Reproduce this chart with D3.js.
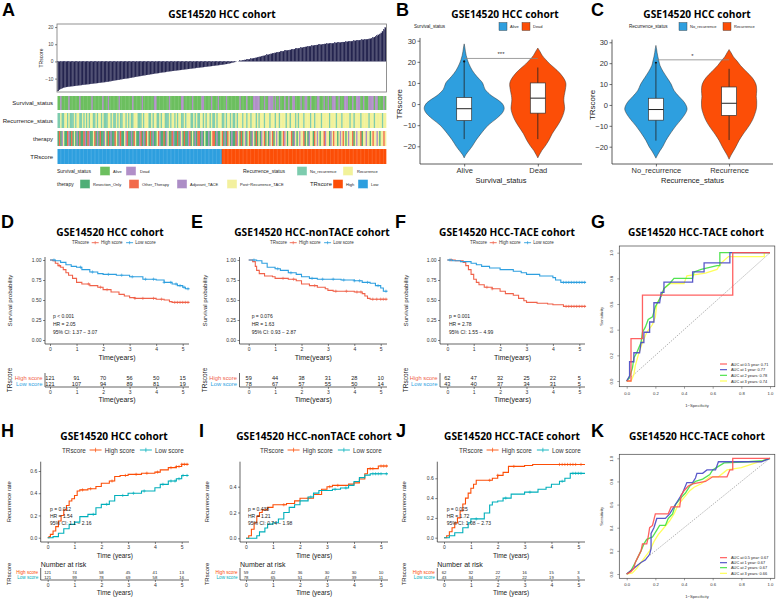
<!DOCTYPE html>
<html><head><meta charset="utf-8">
<script src="https://cdn.jsdelivr.net/npm/d3@7"></script>
<style>
body{margin:0;background:#fff;}
svg{display:block;font-family:"Liberation Sans",Arial,sans-serif;}
</style></head><body>
<svg id="fig" width="777" height="599"></svg>
<script>
// ================= DATA =================
// Panel A: sorted TRscore per patient (242 patients)
const trScores = [
-17.2,-16.5,-16.0,-15.6,-15.3,-15.1,-14.9,-14.8,-14.7,-14.6,-14.5,-14.4,-14.3,-14.2,-14.1,-14.0,-13.9,-13.8,-13.7,-13.6,-13.5,-13.4,
-13.3,-13.2,-13.1,-13.0,-12.9,-12.8,-12.7,-12.6,-12.5,-12.4,-12.3,-12.2,-12.1,-12.0,-11.9,-11.8,-11.6,-11.5,-11.3,-11.2,-11.0,-10.9,
-10.8,-10.7,-10.5,-10.4,-10.2,-10.1,-10.0,-9.9,-9.8,-9.6,-9.5,-9.3,-9.2,-9.0,-8.9,-8.7,-8.6,-8.5,-8.3,-8.2,-8.1,-7.9,
-7.8,-7.7,-7.5,-7.4,-7.3,-7.1,-7.0,-6.9,-6.8,-6.6,-6.5,-6.4,-6.3,-6.2,-6.0,-5.9,-5.8,-5.7,-5.6,-5.5,-5.4,-5.3,
-5.2,-5.1,-5.0,-4.9,-4.8,-4.7,-4.6,-4.5,-4.4,-4.3,-4.2,-4.1,-4.0,-3.9,-3.8,-3.7,-3.6,-3.5,-3.4,-3.3,-3.2,-3.1,
-3.0,-2.9,-2.8,-2.7,-2.6,-2.5,-2.4,-2.3,-2.2,-2.1,-2.0,-1.9,-1.8,-1.6,-1.5,-1.3,-1.2,-1.0,-0.8,-0.6,-0.4,-0.2,
0.0,0.1,0.3,0.5,0.6,0.8,0.9,1.0,1.2,1.3,1.5,1.7,1.8,2.0,2.2,2.4,2.6,2.8,3.0,3.2,3.4,3.6,
3.8,4.0,4.2,4.4,4.6,4.8,5.0,5.1,5.3,5.5,5.7,5.9,6.0,6.2,6.4,6.5,6.6,6.7,6.9,7.0,7.2,7.4,
7.5,7.7,7.8,8.0,8.1,8.3,8.4,8.6,8.7,8.9,9.0,9.1,9.3,9.4,9.5,9.6,9.7,9.8,9.9,10.0,10.1,10.2,
10.3,10.4,10.5,10.5,10.6,10.7,10.8,10.9,10.9,11.0,11.1,11.2,11.3,11.3,11.4,11.5,11.6,11.7,11.8,11.9,12.0,12.1,
12.2,12.3,12.4,12.5,12.6,12.7,12.8,12.9,13.0,13.1,13.3,13.5,13.8,14.2,14.6,15.0,15.5,16.0,16.6,17.4,18.5,19.8];
// A = Alive, D = Dead
const survivalStatus =
"AADAAAAADAAAAAAADAAAAA"+"AAADAAAAAAADAAADAAAAAA"+"ADAAAAAAAAADAAAAAADAAA"+"AAAAADDAAAAAAAAADAAAAA"+
"AAADDAAAAAADAAAAAADDAA"+"AAADAAAADAAAAADAAAAAAA"+"AADAAAADAAAADDDDDAAADA"+"ADDDDADAADAAADAADAADDA"+
"AAADAADDAADAAAADDAAADA"+"ADAADDDAADAAADDDAAADAA"+"DDDAADAAADDDDADDAAAADA";
// N = No_recurrence, R = Recurrence
const recurrenceStatus =
"NNRNNRRNRNNNRNRRNNRNRN"+"RNRRNNRNRRNRNNNRRNRNNR"+"NRNNRRNRNRNNRRRNNNRNRR"+"RNNRNRRNNRNRRNNNRNRRNR"+
"NRRNNRNRRRNNRNRNNRRNRN"+"RRNRNNRNRRRNNRNRRNRNNR"+"NRRRNRRNRRNRRRNRNRRRNR"+"RRNRRRNRRNRRRRNRRNRRRN"+
"RNRRRNRRRRNRRNRRRRNRRR"+"RRNRRRRNRRRNRRRRRNRRNR"+"RRRNRRRRRNRRRNRRRRRNRR";
// R = Resection_Only, O = Other_Therapy, A = Adjuvant_TACE, P = Post-Recurrence_TACE
const therapyCodes =
"RORAPRROARORPRARORROAR"+"OARRPORARORRAPRORARROP"+"RAORRPAORRAROPRRAORARO"+"PRORARRPOARRORAPRROARR"+
"ORAPRORRAORPRAROORARPR"+"RARPOORARRPORAROPRARRO"+"APRORPARPORAPRORPRAPOR"+"PRAPORPAPRRPOAPRPPORAP"+
"RPAPPORPRAPPROPAPRPPOA"+"PPRAPOPPRPAPOPRPAPPORP"+"APPORPPAPPRPOPPAPRPPOP";
const riskGroupNames = ["Low","High"];
const riskGroupCounts = [121,121];

// Panels B / C : violin densities and box statistics
const survCats = ["Alive","Dead"];
const recCats = ["No_recurrence","Recurrence"];
const aliveLevels = [-25.5,-24,-22,-20,-17,-14,-10,-7,-4,-2,0,2,4,7,10,13,16,19,21,23,25,27,28.5];
const aliveDensity = [0,0.04,0.12,0.2,0.3,0.42,0.6,0.8,0.96,1.0,0.96,0.84,0.68,0.52,0.46,0.32,0.2,0.12,0.08,0.05,0.03,0.015,0];
const deadLevels = [-25.5,-24,-22,-20,-17,-14,-10,-7,-4,-2,0,2,4,7,10,13,16,19,21,23,25,26.5];
const deadDensity = [0,0.04,0.1,0.18,0.28,0.36,0.5,0.59,0.65,0.67,0.66,0.65,0.66,0.69,0.7,0.62,0.48,0.3,0.2,0.11,0.05,0];
const noRecLevels = [-25.5,-24,-22,-20,-17,-14,-10,-7,-4,-2,0,2,4,7,10,13,16,19,21,23,25,27,28.5];
const noRecDensity = [0,0.04,0.1,0.17,0.25,0.35,0.5,0.63,0.74,0.78,0.75,0.68,0.58,0.45,0.38,0.28,0.18,0.1,0.075,0.05,0.03,0.015,0];
const recLevels = [-26,-24,-22,-20,-17,-14,-10,-7,-4,-2,0,2,4,7,10,13,16,19,21,23,25,26.5];
const recDensity = [0,0.05,0.11,0.17,0.25,0.35,0.5,0.59,0.65,0.68,0.69,0.69,0.68,0.69,0.67,0.58,0.43,0.28,0.2,0.11,0.05,0];
// [lower whisker, Q1, median, Q3, upper whisker]
const aliveBox = [-16.6,-7.8,-2.2,3.1,20.2];
const deadBox = [-16.6,-4.3,2.8,10.0,17.3];
const noRecBox = [-17.1,-7.3,-2.2,3.2,19.7];
const recBox = [-16.8,-5.0,0.8,8.6,17.3];
const aliveOutliers = [20.2];
const noRecOutliers = [20.2];

// Panels D-F : overall survival (time, probability)
const survD_high = [[0,1],[0.1,0.99],[0.2,0.96],[0.3,0.93],[0.4,0.91],[0.5,0.88],[0.6,0.84],[0.7,0.81],[0.85,0.77],[1.0,0.72],[1.2,0.70],[1.5,0.68],[1.8,0.66],[2.0,0.63],[2.3,0.60],[2.6,0.57],[2.8,0.55],[3.0,0.53],[3.2,0.52],[3.6,0.52],[4.0,0.51],[4.3,0.50],[4.5,0.48],[4.6,0.47],[5.25,0.47]];
const survD_low = [[0,1],[0.2,0.99],[0.4,0.97],[0.6,0.94],[0.8,0.92],[1.0,0.91],[1.2,0.88],[1.5,0.85],[1.8,0.83],[2.0,0.82],[2.5,0.81],[3.0,0.79],[3.5,0.76],[4.0,0.75],[4.3,0.72],[4.6,0.70],[4.8,0.68],[5.0,0.66],[5.1,0.64],[5.25,0.64]];
const censD_high = [0.35,1.45,1.9,2.15,3.2,3.5,3.9,4.2,4.7,4.8,4.9,5.0,5.1,5.2];
const censD_low = [0.15,1.15,1.6,2.2,2.7,3.1,3.6,3.9,4.3,4.55,4.75,4.9,5.05,5.2];
const survE_high = [[0,1],[0.15,0.98],[0.25,0.92],[0.3,0.87],[0.4,0.83],[0.6,0.80],[0.9,0.79],[1.0,0.77],[1.5,0.76],[1.8,0.74],[2.0,0.70],[2.3,0.68],[2.6,0.66],[2.9,0.64],[3.0,0.62],[3.2,0.61],[4.0,0.60],[4.3,0.58],[4.4,0.55],[4.5,0.52],[4.6,0.51],[5.25,0.51]];
const survE_low = [[0,1],[0.3,0.99],[0.5,0.96],[0.7,0.91],[1.0,0.89],[1.2,0.87],[1.5,0.84],[1.8,0.82],[2.0,0.79],[2.3,0.77],[2.6,0.76],[3.5,0.75],[4.0,0.74],[4.3,0.72],[4.6,0.71],[4.8,0.68],[5.0,0.65],[5.1,0.61],[5.25,0.61]];
const censE_high = [1.3,1.7,2.5,3.3,3.7,4.1,4.25,4.7,4.85,5.0,5.1,5.2];
const censE_low = [0.2,1.1,1.6,2.4,2.8,3.2,3.6,4.0,4.2,4.5,4.9,5.2];
const survF_high = [[0,1],[0.3,0.99],[0.6,0.97],[0.7,0.93],[0.8,0.88],[0.9,0.82],[1.0,0.76],[1.1,0.72],[1.2,0.69],[1.4,0.66],[1.7,0.64],[2.0,0.61],[2.2,0.58],[2.5,0.56],[2.7,0.52],[2.9,0.49],[3.0,0.47],[3.4,0.46],[3.8,0.45],[4.0,0.44],[4.4,0.42],[5.25,0.42]];
const survF_low = [[0,1],[0.2,0.99],[0.5,0.98],[0.9,0.96],[1.1,0.94],[1.3,0.92],[1.6,0.90],[2.0,0.88],[2.5,0.86],[2.8,0.84],[3.0,0.82],[3.5,0.80],[4.0,0.78],[4.1,0.75],[4.3,0.72],[5.25,0.72]];
const censF_high = [0.15,1.5,1.7,4.5,4.6,4.7,4.8,4.9,5.0,5.1,5.2];
const censF_low = [0.1,4.4,4.5,4.6,4.7,4.8,4.9,5.0,5.1,5.2];

// Panels H-J : recurrence rate (time, cumulative rate)
const recH_high = [[0,0],[0.05,0.01],[0.1,0.03],[0.2,0.06],[0.3,0.1],[0.4,0.15],[0.5,0.2],[0.6,0.25],[0.7,0.29],[0.8,0.33],[0.9,0.35],[1.0,0.38],[1.1,0.42],[1.2,0.43],[1.5,0.44],[1.8,0.46],[2.0,0.49],[2.3,0.51],[2.5,0.55],[2.7,0.56],[3.0,0.57],[3.5,0.58],[4.0,0.59],[4.2,0.61],[4.5,0.63],[4.8,0.64],[5.0,0.66],[5.25,0.66]];
const recH_low = [[0,0],[0.2,0.01],[0.4,0.04],[0.6,0.08],[0.8,0.12],[1.0,0.14],[1.2,0.19],[1.5,0.21],[1.8,0.27],[2.0,0.30],[2.3,0.33],[2.5,0.38],[3.0,0.40],[3.5,0.42],[4.0,0.45],[4.2,0.48],[4.5,0.51],[4.8,0.53],[5.0,0.56],[5.25,0.56]];
const censH_high = [1.3,1.6,2.4,2.9,3.3,3.7,4.1,4.6,4.8,4.9,5.0,5.1,5.2];
const censH_low = [1.7,2.2,2.8,3.2,3.6,4.3,4.6,4.75,4.9,5.05,5.2];
const recI_high = [[0,0],[0.1,0.02],[0.2,0.07],[0.3,0.12],[0.4,0.17],[0.5,0.20],[0.6,0.22],[0.8,0.24],[1.0,0.26],[1.5,0.27],[1.8,0.29],[2.0,0.31],[2.5,0.34],[2.8,0.38],[3.0,0.40],[3.2,0.41],[3.8,0.42],[4.0,0.43],[4.2,0.46],[4.4,0.50],[4.5,0.54],[4.9,0.56],[5.25,0.56]];
const recI_low = [[0,0],[0.4,0.02],[0.5,0.05],[0.7,0.08],[0.8,0.11],[1.0,0.12],[1.2,0.15],[1.4,0.20],[1.6,0.24],[1.8,0.26],[2.0,0.29],[2.3,0.32],[2.5,0.35],[2.7,0.37],[3.2,0.38],[3.5,0.39],[3.8,0.41],[4.0,0.44],[4.2,0.47],[4.4,0.49],[4.6,0.50],[5.25,0.50]];
const censI_high = [1.4,2.3,3.1,3.4,4.6,4.7,5.0,5.1,5.2];
const censI_low = [2.4,3.3,3.7,4.7,4.8,4.9,5.0,5.2];
const recJ_high = [[0,0],[0.1,0.02],[0.2,0.06],[0.3,0.10],[0.4,0.15],[0.5,0.20],[0.6,0.27],[0.7,0.34],[0.8,0.40],[0.9,0.45],[1.0,0.50],[1.1,0.54],[1.2,0.58],[1.8,0.60],[2.0,0.63],[2.2,0.66],[2.4,0.72],[3.0,0.73],[3.3,0.74],[5.25,0.74]];
const recJ_low = [[0,0],[0.2,0.02],[0.4,0.05],[0.7,0.10],[0.9,0.15],[1.0,0.19],[1.5,0.25],[1.7,0.33],[1.8,0.36],[2.0,0.37],[2.2,0.40],[2.5,0.44],[3.0,0.46],[3.5,0.49],[3.8,0.51],[4.0,0.54],[4.3,0.57],[4.5,0.60],[4.7,0.65],[5.25,0.65]];
const censJ_high = [1.7,2.0,2.6,4.3,4.4,4.5,4.6,4.7,4.8,4.9,5.1];
const censJ_low = [1.2,2.3,3.2,4.4,4.8,4.9,5.0,5.1];

// Risk tables: numbers at risk at years 0..5
const riskYears = [0,1,2,3,4,5];
const riskD_high = [121,91,70,56,50,15], riskD_low = [121,107,94,89,81,19];
const riskE_high = [59,44,38,31,28,10], riskE_low = [78,67,57,55,50,14];
const riskF_high = [62,47,32,25,22,5], riskF_low = [43,40,37,34,31,5];
const riskH_high = [121,74,58,45,41,13], riskH_low = [121,99,78,69,58,16];
const riskI_high = [59,42,36,30,30,10], riskI_low = [78,65,51,47,39,11];
const riskJ_high = [62,32,22,16,15,3], riskJ_low = [43,34,27,22,19,5];

// ROC curves (1-specificity, sensitivity)
const rocG_05 = [[0,0],[0.03,0],[0.03,0.33],[0.11,0.33],[0.11,0.67],[0.74,0.67],[0.74,1],[1,1]];
const rocG_1 = [[0,0],[0.02,0.04],[0.02,0.15],[0.05,0.15],[0.05,0.22],[0.09,0.22],[0.1,0.3],[0.12,0.3],[0.12,0.38],[0.16,0.38],[0.16,0.46],[0.19,0.46],[0.19,0.61],[0.23,0.61],[0.24,0.69],[0.26,0.69],[0.26,0.77],[0.46,0.77],[0.46,0.85],[0.54,0.85],[0.54,0.92],[0.72,0.92],[0.72,1],[1,1]];
const rocG_2 = [[0,0],[0.02,0.03],[0.04,0.1],[0.05,0.18],[0.07,0.22],[0.1,0.3],[0.11,0.38],[0.13,0.42],[0.15,0.48],[0.18,0.5],[0.2,0.58],[0.22,0.62],[0.24,0.66],[0.26,0.72],[0.3,0.76],[0.33,0.8],[0.46,0.8],[0.47,0.85],[0.52,0.87],[0.63,0.9],[0.65,0.9],[0.65,1],[1,1]];
const rocG_3 = [[0,0],[0.03,0],[0.05,0.05],[0.06,0.12],[0.08,0.2],[0.11,0.3],[0.14,0.38],[0.18,0.44],[0.2,0.5],[0.21,0.6],[0.24,0.66],[0.26,0.72],[0.3,0.76],[0.4,0.76],[0.42,0.82],[0.55,0.84],[0.63,0.87],[0.66,0.92],[0.71,0.97],[0.96,0.97],[0.96,1],[1,1]];
const rocK_05 = [[0,0],[0.03,0.02],[0.05,0.05],[0.06,0.1],[0.08,0.15],[0.1,0.2],[0.11,0.26],[0.14,0.26],[0.15,0.32],[0.16,0.4],[0.18,0.42],[0.2,0.52],[0.29,0.52],[0.31,0.58],[0.37,0.58],[0.38,0.68],[0.4,0.72],[0.43,0.76],[0.46,0.78],[0.55,0.8],[0.6,0.84],[0.7,0.84],[0.72,0.9],[0.74,0.9],[0.74,1],[1,1]];
const rocK_1 = [[0,0],[0.02,0.02],[0.05,0.05],[0.08,0.08],[0.1,0.1],[0.13,0.12],[0.16,0.17],[0.17,0.22],[0.17,0.35],[0.19,0.4],[0.21,0.48],[0.27,0.48],[0.3,0.52],[0.33,0.58],[0.35,0.62],[0.39,0.7],[0.42,0.79],[0.46,0.79],[0.48,0.83],[0.49,0.87],[0.53,0.87],[0.56,0.9],[0.62,0.9],[0.64,0.97],[0.94,0.97],[1,1]];
const rocK_2 = [[0,0],[0.03,0.03],[0.06,0.1],[0.08,0.15],[0.1,0.2],[0.12,0.26],[0.14,0.3],[0.18,0.32],[0.21,0.38],[0.23,0.42],[0.27,0.42],[0.29,0.48],[0.32,0.52],[0.34,0.6],[0.38,0.66],[0.41,0.7],[0.44,0.76],[0.48,0.8],[0.53,0.82],[0.58,0.86],[0.6,0.9],[0.64,0.93],[0.68,0.96],[0.85,0.97],[0.95,0.98],[1,1]];
const rocK_3 = [[0,0],[0.04,0.01],[0.07,0.05],[0.1,0.1],[0.13,0.15],[0.16,0.2],[0.19,0.28],[0.22,0.34],[0.26,0.4],[0.3,0.46],[0.33,0.52],[0.36,0.6],[0.4,0.66],[0.44,0.72],[0.47,0.75],[0.52,0.78],[0.58,0.84],[0.64,0.84],[0.7,0.9],[0.8,0.92],[0.9,0.96],[1,1]];
const aucLabelsG = ["AUC at 0.5 year: 0.71","AUC at 1 year: 0.77","AUC at 2 years: 0.78","AUC at 3 years: 0.74"];
const aucLabelsK = ["AUC at 0.5 year: 0.67","AUC at 1 year: 0.67","AUC at 2 years: 0.67","AUC at 3 years: 0.66"];

// ================= DRAWING =================
const svg = d3.select("#fig");
const TF = "'Open Sans','Noto Sans',sans-serif";
function T(p, x, y, s, o = {}) {
  const t = p.append("text").attr("x", x).attr("y", y).text(s)
    .attr("font-size", o.size || 6).attr("fill", o.fill || "#000")
    .attr("text-anchor", o.anchor || "start").attr("dominant-baseline", o.base || "central");
  if (o.weight) t.attr("font-weight", o.weight);
  if (o.family) t.attr("font-family", o.family);
  if (o.rotate) t.attr("transform", `rotate(${o.rotate},${x},${y})`);
  return t;
}
function line(p, x1, y1, x2, y2, c = "#000", w = 0.7, dash) {
  const l = p.append("line").attr("x1", x1).attr("y1", y1).attr("x2", x2).attr("y2", y2)
    .attr("stroke", c).attr("stroke-width", w);
  if (dash) l.attr("stroke-dasharray", dash);
  return l;
}
function styleAxis(g, size, fill, tickColor = "#333", tw = 0.6) {
  g.select(".domain").remove();
  g.selectAll("text").attr("font-size", size).attr("fill", fill).attr("font-family", "'Liberation Sans',Arial,sans-serif");
  g.selectAll("line").attr("stroke", tickColor).attr("stroke-width", tw);
}

// Panel letters & titles
const letters = [["A",2,16],["B",396,16],["C",591,16],["D",1,228],["E",191,228],["F",395,228],["G",591,228],["H",1,437],["I",199,437],["J",396,437],["K",591,437]];
letters.forEach(([l, x, y]) => T(svg, x, y, l, {size: 18, weight: "bold", base: "auto"}));
const titles = [["GSE14520 HCC cohort",222,14],["GSE14520 HCC cohort",505,14],["GSE14520 HCC cohort",697,14],
  ["GSE14520 HCC cohort",110,232],["GSE14520 HCC-nonTACE cohort",312,232],["GSE14520 HCC-TACE cohort",507,232],["GSE14520 HCC-TACE cohort",696,232],
  ["GSE14520 HCC cohort",114,436],["GSE14520 HCC-nonTACE cohort",314,436],["GSE14520 HCC-TACE cohort",512,436],["GSE14520 HCC-TACE cohort",697,436]];
titles.forEach(([s, x, y]) => T(svg, x, y, s, {size: 10.2, weight: "bold", anchor: "middle", family: TF}));

// ---------- Panel A ----------
(function () {
  const g = svg.append("g");
  const n = trScores.length, idx = d3.range(n);
  const xb = d3.scaleBand().domain(idx).range([57.5, 386]);
  const xh = d3.scaleBand().domain(idx).range([57.5, 386]);
  const y = d3.scaleLinear().domain([-17.8, 21.8]).range([92, 24]);
  g.selectAll("rect.bar").data(trScores).join("rect")
    .attr("x", (d, i) => xb(i)).attr("width", xb.bandwidth())
    .attr("y", d => y(Math.max(0, d))).attr("height", d => Math.abs(y(d) - y(0)))
    .attr("fill", "#25254F").attr("stroke", "#4A4A72").attr("stroke-width", 0.15);
  g.append("rect").attr("x", 57).attr("y", 24).attr("width", 329.5).attr("height", 68)
    .attr("fill", "none").attr("stroke", "#777").attr("stroke-width", 0.8);
  const ax = g.append("g").attr("transform", "translate(57,0)")
    .call(d3.axisLeft(y).tickValues([-10, 0, 10, 20]).tickSize(2).tickPadding(1.5));
  styleAxis(ax, 4.8, "#444");
  T(g, 41, 58, "TRscore", {size: 5, anchor: "middle", rotate: -90, fill: "#222"});

  const survColor = {A: "#6CBF5F", D: "#B18FC8"};
  const recColor = {N: "#7DCCAE", R: "#F2F29A"};
  const thColor = {R: "#4EAE76", O: "#F26A4B", A: "#AC8DC6", P: "#F3F09E"};
  const riskColor = {Low: "#2E9FDF", High: "#FC4E07"};
  const riskOf = [];
  riskGroupNames.forEach((nm, k) => { for (let j = 0; j < riskGroupCounts[k]; j++) riskOf.push(nm); });
  const rows = [
    {label: "Survival_status", y0: 96, y1: 110, col: i => survColor[survivalStatus[i]]},
    {label: "Recurrence_status", y0: 113, y1: 128, col: i => recColor[recurrenceStatus[i]]},
    {label: "therapy", y0: 131, y1: 146, col: i => thColor[therapyCodes[i]]},
    {label: "TRscore", y0: 149, y1: 164, col: i => riskColor[riskOf[i]]}
  ];
  rows.forEach(r => {
    g.append("g").selectAll("rect").data(idx).join("rect")
      .attr("x", i => xh(i)).attr("width", xh.bandwidth() + 0.35)
      .attr("y", r.y0).attr("height", r.y1 - r.y0).attr("fill", i => r.col(i) || "#fff");
    T(g, 53, (r.y0 + r.y1) / 2, r.label, {size: 6, anchor: "end", fill: "#222"});
  });
  // legends
  function key(x, y, c) { g.append("rect").attr("x", x).attr("y", y - 4.5).attr("width", 10).attr("height", 9).attr("fill", c).attr("stroke", "#fff").attr("stroke-width", 0.4); }
  const L1 = 171, L2 = 184;
  T(g, 57, L1, "Survival_status", {size: 5, fill: "#222"});
  key(100, L1, survColor.A); T(g, 113, L1, "Alive", {size: 4, fill: "#222"});
  key(126, L1, survColor.D); T(g, 140, L1, "Dead", {size: 4, fill: "#222"});
  T(g, 243, L1, "Recurrence_status", {size: 5, fill: "#222"});
  key(297, L1, recColor.N); T(g, 310, L1, "No_recurrence", {size: 4, fill: "#222"});
  key(343, L1, recColor.R); T(g, 357, L1, "Recurrence", {size: 4, fill: "#222"});
  T(g, 57, L2, "therapy", {size: 5, fill: "#222"});
  key(80, L2, thColor.R); T(g, 93, L2, "Resection_Only", {size: 4, fill: "#222"});
  key(129, L2, thColor.O); T(g, 142, L2, "Other_Therapy", {size: 4, fill: "#222"});
  key(177, L2, thColor.A); T(g, 190, L2, "Adjuvant_TACE", {size: 4, fill: "#222"});
  key(227, L2, thColor.P); T(g, 240, L2, "Post\u2212Recurrence_TACE", {size: 4, fill: "#222"});
  T(g, 310, L2, "TRscore", {size: 5.8, fill: "#222"});
  key(333, L2, riskColor.High); T(g, 346, L2, "High", {size: 4, fill: "#222"});
  key(358, L2, riskColor.Low); T(g, 371, L2, "Low", {size: 4, fill: "#222"});
})();

// ---------- Panels B, C (violins) ----------
function violinPanel(o) {
  const g = svg.append("g");
  const y = d3.scaleLinear().domain([-20, 30]).range(o.yr);
  const x = d3.scalePoint().domain(o.cats).range([o.ax0, o.ax1]).padding(0.6);
  const cols = ["#2E9FDF", "#FC4E07"];
  o.groups.forEach((gr, i) => {
    const cx = x(o.cats[i]);
    const pts = d3.zip(gr.levels, gr.dens);
    const area = d3.area().curve(d3.curveCatmullRom.alpha(0.5))
      .y(d => y(d[0])).x0(d => cx - d[1] * 40).x1(d => cx + d[1] * 40);
    g.append("path").attr("d", area(pts)).attr("fill", cols[i]).attr("stroke", "#333").attr("stroke-width", 0.5);
    const b = gr.box;
    line(g, cx, y(b[0]), cx, y(b[4]), "#222", 0.8);
    g.append("rect").attr("x", cx - 7.5).attr("y", y(b[3])).attr("width", 15).attr("height", y(b[1]) - y(b[3]))
      .attr("fill", "#fff").attr("stroke", "#333").attr("stroke-width", 0.7);
    line(g, cx - 7.5, y(b[2]), cx + 7.5, y(b[2]), "#222", 1);
    (gr.out || []).forEach(v => g.append("circle").attr("cx", cx).attr("cy", y(v)).attr("r", 1.1).attr("fill", "#111"));
  });
  // significance
  line(g, x(o.cats[0]), y(21.6), x(o.cats[1]), y(21.6), "#888", 0.8);
  T(g, (x(o.cats[0]) + x(o.cats[1])) / 2, y(23.6), o.sig, {size: 6, anchor: "middle", fill: "#333"});
  // axes
  const ay = g.append("g").attr("transform", `translate(${o.ax0},0)`)
    .call(d3.axisLeft(y).tickValues([-20, -10, 0, 10, 20, 30]).tickSize(2.5).tickPadding(1.5));
  styleAxis(ay, 7.5, "#333", "#333", 0.7);
  const ax = g.append("g").attr("transform", `translate(0,${o.xAxisY})`)
    .call(d3.axisBottom(x).tickSize(2.5).tickPadding(1.2));
  styleAxis(ax, 7.5, "#333", "#333", 0.7);
  line(g, o.ax0, y(31.3), o.ax0, o.xAxisY, "#333", 0.8);
  line(g, o.ax0, o.xAxisY, o.ax1, o.xAxisY, "#333", 0.8);
  T(g, o.ylabX, y(0), "TRscore", {size: 8, anchor: "middle", rotate: -90, fill: "#222"});
  T(g, (o.ax0 + o.ax1) / 2, 180, o.xlab, {size: 7.5, anchor: "middle", fill: "#222"});
  // legend
  const ly = 26.5;
  T(g, o.leg[0], ly, o.xlab, {size: 4.6, fill: "#222"});
  [0, 1].forEach(i => {
    g.append("rect").attr("x", o.leg[1 + i * 2]).attr("y", ly - 4).attr("width", 8).attr("height", 8)
      .attr("fill", cols[i]).attr("stroke", "#333").attr("stroke-width", 0.4);
    T(g, o.leg[2 + i * 2], ly, o.cats[i], {size: 4, fill: "#222"});
  });
}
violinPanel({cats: survCats, yr: [146.3, 40.7], ax0: 420, ax1: 582, xAxisY: 164, ylabX: 400, xlab: "Survival_status", sig: "***",
  leg: [414, 499, 510, 522, 533],
  groups: [{levels: aliveLevels, dens: aliveDensity, box: aliveBox, out: aliveOutliers},
           {levels: deadLevels, dens: deadDensity, box: deadBox}]});
violinPanel({cats: recCats, yr: [146.7, 42.3], ax0: 612, ax1: 773, xAxisY: 164, ylabX: 593, xlab: "Recurrence_status", sig: "*",
  leg: [629, 679, 690, 723, 734],
  groups: [{levels: noRecLevels, dens: noRecDensity, box: noRecBox, out: noRecOutliers},
           {levels: recLevels, dens: recDensity, box: recBox}]});

// ---------- KM style panels ----------
function stepValue(data, t) { let v = data[0][1]; data.forEach(d => { if (d[0] <= t) v = d[1]; }); return v; }
function kmLegend(x, y, size, lineLen, colors, labels) {
  let cx = x;
  const t0 = T(svg, cx, y, "TRscore", {size, fill: "#333"});
  cx += t0.node().getComputedTextLength() + size * 0.6;
  labels.forEach((lab, i) => {
    line(svg, cx, y, cx + lineLen, y, colors[i], 0.9);
    line(svg, cx + lineLen / 2, y - size * 0.35, cx + lineLen / 2, y + size * 0.35, colors[i], 0.7);
    cx += lineLen + size * 0.5;
    const t = T(svg, cx, y, lab, {size, fill: "#333"});
    cx += t.node().getComputedTextLength() + size * 0.8;
  });
}
function kmPanel(o) {
  const g = svg.append("g");
  const x = d3.scaleLinear().domain([0, 5]).range([o.t0, o.t5]);
  const y = d3.scaleLinear().domain([0, o.yRef]).range([o.y0, o.yRefPx]);
  const lineGen = d3.line().x(d => x(d[0])).y(d => y(d[1])).curve(d3.curveStepAfter);
  o.curves.forEach(c => {
    g.append("path").attr("d", lineGen(c.data)).attr("fill", "none").attr("stroke", c.color).attr("stroke-width", 1.1);
    c.cens.forEach(t => {
      const cx = x(t), cy = y(stepValue(c.data, t));
      line(g, cx, cy - 1.6, cx, cy + 1.6, c.color, 0.6);
      line(g, cx - 1.6, cy, cx + 1.6, cy, c.color, 0.6);
    });
  });
  const ay = g.append("g").attr("transform", `translate(${o.ax},0)`)
    .call(d3.axisLeft(y).tickValues(o.yTicks).tickFormat(d3.format(o.yFmt)).tickSize(2).tickPadding(1.5));
  styleAxis(ay, o.tickSize, "#333");
  const ax = g.append("g").attr("transform", `translate(0,${o.xAxisY})`)
    .call(d3.axisBottom(x).tickValues(riskYears).tickFormat(d3.format("d")).tickSize(2).tickPadding(1.2));
  styleAxis(ax, o.tickSize, "#333");
  line(g, o.ax, o.yTop, o.ax, o.xAxisY, "#222", 0.7);
  line(g, o.ax, o.xAxisY, o.axEnd, o.xAxisY, "#222", 0.7);
  T(g, (o.ax + o.axEnd) / 2, o.xAxisY + 13, o.xlab, {size: o.labSize, anchor: "middle", fill: "#222"});
  T(g, o.ylabX, (o.yTop + o.xAxisY) / 2, o.ylab, {size: o.labSize - 0.8, anchor: "middle", rotate: -90, fill: "#222"});
  o.stats.forEach((s, i) => T(g, o.statX, o.statY + i * o.statDy, s, {size: 5, fill: "#222"}));
  // risk table
  const r = o.risk;
  if (r.title) T(g, o.ax, r.titleY, "Number at risk", {size: 7, fill: "#222"});
  [r.high, r.low].forEach((vals, k) => {
    const yy = k === 0 ? r.yHigh : r.yLow;
    T(g, o.ax - 2.5, yy, k === 0 ? "High score" : "Low score", {size: r.labSize, anchor: "end", fill: o.curves[k].color});
    vals.forEach((v, j) => T(g, x(riskYears[j]), yy, v, {size: r.numSize, anchor: "middle", fill: "#222"}));
  });
  const rx = g.append("g").attr("transform", `translate(0,${r.axisY})`)
    .call(d3.axisBottom(x).tickValues(riskYears).tickFormat(d3.format("d")).tickSize(2).tickPadding(1.2));
  styleAxis(rx, o.tickSize, "#333");
  line(g, o.ax, r.top, o.ax, r.axisY, "#222", 0.7);
  line(g, o.ax, r.axisY, o.axEnd, r.axisY, "#222", 0.7);
  T(g, (o.ax + o.axEnd) / 2, r.axisY + 12.5, o.xlab, {size: o.labSize, anchor: "middle", fill: "#222"});
  T(g, o.ylabX, (r.top + r.axisY) / 2, "TRscore", {size: o.labSize - 0.5, anchor: "middle", rotate: -90, fill: "#222"});
}
const kmRed = "#F0624A", kmBlue = "#2E9FDF", recRed = "#FC4E07", recTeal = "#00AFBB";
const survBase = {yRef: 1, y0: 340, yRefPx: 260, yTicks: [0, 0.25, 0.5, 0.75, 1], yFmt: ".2f", xAxisY: 344, yTop: 257,
  tickSize: 5, labSize: 7, xlab: "Time(years)", ylab: "Survival probability", statY: 316, statDy: 8};
const survRiskBase = {yHigh: 378.3, yLow: 383.8, axisY: 387, top: 373, labSize: 5.8, numSize: 5.6};
kmPanel(Object.assign({}, survBase, {ax: 45, t0: 50, t5: 182.7, axEnd: 189, ylabX: 9, statX: 53,
  stats: ["p < 0.001", "HR = 2.05", "95% CI: 1.37 \u2212 3.07"],
  curves: [{data: survD_high, cens: censD_high, color: kmRed}, {data: survD_low, cens: censD_low, color: kmBlue}],
  risk: Object.assign({high: riskD_high, low: riskD_low}, survRiskBase)}));
kmPanel(Object.assign({}, survBase, {ax: 239.5, t0: 248.7, t5: 380.7, axEnd: 387, ylabX: 204, statX: 251.7,
  stats: ["p = 0.076", "HR = 1.63", "95% CI: 0.93 \u2212 2.87"],
  curves: [{data: survE_high, cens: censE_high, color: kmRed}, {data: survE_low, cens: censE_low, color: kmBlue}],
  risk: Object.assign({high: riskE_high, low: riskE_low}, survRiskBase)}));
kmPanel(Object.assign({}, survBase, {ax: 440, t0: 447.3, t5: 579.3, axEnd: 585, ylabX: 405, statX: 449,
  stats: ["p = 0.001", "HR = 2.78", "95% CI: 1.55 \u2212 4.99"],
  curves: [{data: survF_high, cens: censF_high, color: kmRed}, {data: survF_low, cens: censF_low, color: kmBlue}],
  risk: Object.assign({high: riskF_high, low: riskF_low}, survRiskBase)}));
kmLegend(72, 242.7, 4.5, 7, [kmRed, kmBlue], ["High score", "Low score"]);
kmLegend(270, 242.7, 4.5, 7, [kmRed, kmBlue], ["High score", "Low score"]);
kmLegend(470, 242.7, 4.5, 7, [kmRed, kmBlue], ["High score", "Low score"]);

const recBase = {xAxisY: 542, yTop: 461.7, tickSize: 5, labSize: 6.5, xlab: "Time (years)", ylab: "Recurrence rate",
  yFmt: ".1f", statY: 509.3, statDy: 7};
const recRiskBase = {title: true, titleY: 564, yHigh: 572.7, yLow: 577.7, axisY: 580, top: 568, labSize: 4.6, numSize: 4.2};
kmPanel(Object.assign({}, recBase, {ax: 40.7, t0: 47.7, t5: 181.7, axEnd: 189, ylabX: 9, statX: 50,
  yRef: 0.6, y0: 537.7, yRefPx: 471, yTicks: [0, 0.2, 0.4, 0.6],
  stats: ["p = 0.012", "HR = 1.54", "95% CI: 1.1 \u2212 2.16"],
  curves: [{data: recH_high, cens: censH_high, color: recRed}, {data: recH_low, cens: censH_low, color: recTeal}],
  risk: Object.assign({high: riskH_high, low: riskH_low}, recRiskBase)}));
kmPanel(Object.assign({}, recBase, {ax: 240, t0: 246, t5: 381, axEnd: 388, ylabX: 207, statX: 248,
  yRef: 0.4, y0: 538.3, yRefPx: 486.7, yTicks: [0, 0.2, 0.4],
  stats: ["p = 0.438", "HR = 1.21", "95% CI: 0.74 \u2212 1.98"],
  curves: [{data: recI_high, cens: censI_high, color: recRed}, {data: recI_low, cens: censI_low, color: recTeal}],
  risk: Object.assign({high: riskI_high, low: riskI_low}, recRiskBase)}));
kmPanel(Object.assign({}, recBase, {ax: 437.3, t0: 444, t5: 578.3, axEnd: 585, ylabX: 404, statX: 446.7,
  yRef: 0.6, y0: 537.7, yRefPx: 478.3, yTicks: [0, 0.2, 0.4, 0.6],
  stats: ["p = 0.025", "HR = 1.72", "95% CI: 1.08 \u2212 2.73"],
  curves: [{data: recJ_high, cens: censJ_high, color: recRed}, {data: recJ_low, cens: censJ_low, color: recTeal}],
  risk: Object.assign({high: riskJ_high, low: riskJ_low}, recRiskBase)}));
kmLegend(62, 450, 6.3, 12, [recRed, recTeal], ["High score", "Low score"]);
kmLegend(260, 450, 6.3, 12, [recRed, recTeal], ["High score", "Low score"]);
kmLegend(459, 450, 6.3, 12, [recRed, recTeal], ["High score", "Low score"]);

// ---------- ROC panels ----------
function rocPanel(o) {
  const g = svg.append("g");
  const x = d3.scaleLinear().domain([0, 1]).range([626.7, 770]);
  const y = d3.scaleLinear().domain([0, 1]).range([o.y0, o.y1]);
  g.append("rect").attr("x", 619.3).attr("y", o.top).attr("width", 155.5).attr("height", o.bottom - o.top)
    .attr("fill", "none").attr("stroke", "#444").attr("stroke-width", 0.7);
  line(g, x(0), y(0), x(1), y(1), "#666", 0.5, "1.5,1.2");
  const cols = ["#FF5050", "#4747C4", "#3FE03F", "#FFFF4A"];
  const lg = d3.line().x(d => x(d[0])).y(d => y(d[1]));
  [3, 2, 1, 0].forEach(i => g.append("path").attr("d", lg(o.curves[i])).attr("fill", "none")
    .attr("stroke", cols[i]).attr("stroke-width", 1.3).attr("stroke-opacity", 0.9));
  const ax = g.append("g").attr("transform", `translate(0,${o.bottom})`)
    .call(d3.axisBottom(x).tickValues([0, 0.2, 0.4, 0.6, 0.8, 1]).tickFormat(d3.format(".1f")).tickSize(2).tickPadding(3));
  styleAxis(ax, 4.2, "#333", "#444", 0.5);
  const ay = g.append("g").attr("transform", "translate(619.3,0)")
    .call(d3.axisLeft(y).tickValues([0, 0.2, 0.4, 0.6, 0.8, 1]).tickFormat(d3.format(".1f")).tickSize(2));
  styleAxis(ay, 4.2, "#333", "#444", 0.5);
  ay.selectAll("text").attr("x", 0).attr("dy", 0).attr("text-anchor", "middle")
    .attr("dominant-baseline", "central").attr("transform", "translate(-7.5,0) rotate(-90)");
  T(g, 697, o.bottom + 18.5, "1\u2212Specificity", {size: 4.2, anchor: "middle", fill: "#333"});
  T(g, 601.7, (o.top + o.bottom) / 2, "Sensitivity", {size: 4.2, anchor: "middle", rotate: -90, fill: "#333"});
  o.labels.forEach((s, i) => {
    const yy = o.legY[i];
    line(g, 720, yy, 727, yy, cols[i], 1.1);
    T(g, 731, yy, s, {size: 3.9, fill: "#222"});
  });
}
rocPanel({top: 246, bottom: 386.7, y0: 381, y1: 252.7, curves: [rocG_05, rocG_1, rocG_2, rocG_3], labels: aucLabelsG,
  legY: [364, 369.7, 375.3, 381]});
rocPanel({top: 454.3, bottom: 578.3, y0: 574, y1: 458.3, curves: [rocK_05, rocK_1, rocK_2, rocK_3], labels: aucLabelsK,
  legY: [557.7, 562.7, 567.7, 573.3]});
</script>
</body></html>
